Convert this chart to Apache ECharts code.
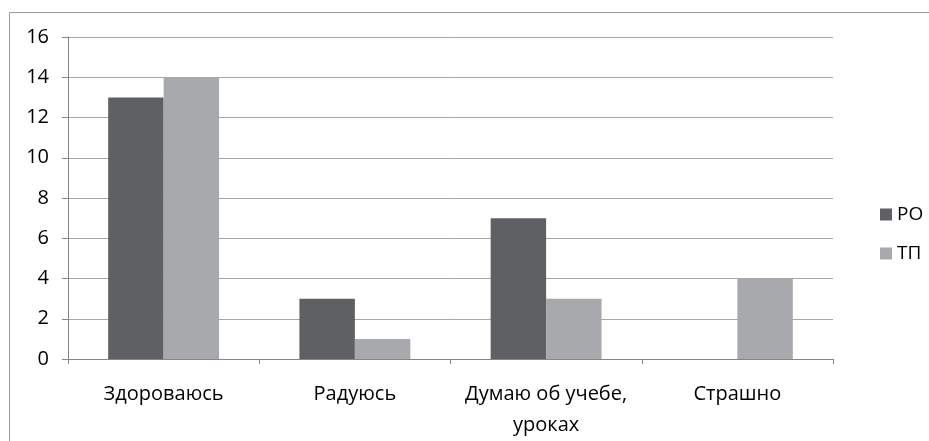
<!DOCTYPE html>
<html>
<head>
<meta charset="utf-8">
<script src="https://cdn.jsdelivr.net/npm/echarts@6/dist/echarts.min.js"></script>
<style>
html,body{margin:0;padding:0;background:#fff;}
#c{width:929px;height:441px;}
</style>
</head>
<body>
<div id="c"></div>
<script>
var categories = ['Здороваюсь', 'Радуюсь', 'Думаю об учебе,\nуроках', 'Страшно'];
var seriesNames = ['РО', 'ТП'];
var valuesPO = [13, 3, 7, 0];
var valuesTP = [14, 1, 3, 4];
var yTicks = { min: 0, max: 16, interval: 2 };

var FONT = 'Open Sans';
var chart = echarts.init(document.getElementById('c'), null, { renderer: 'canvas' });
chart.setOption({
  animation: false,
  backgroundColor: '#ffffff',
  graphic: [{
    type: 'rect',
    shape: { x: 9.5, y: 12.5, width: 1000, height: 1000 },
    style: { fill: 'none', stroke: '#9a9a9a', lineWidth: 1 },
    silent: true
  }],
  grid: { left: 68, right: 96, top: 37, bottom: 81, containLabel: false },
  legend: {
    orient: 'vertical',
    left: 875,
    top: 200,
    itemWidth: 12,
    itemHeight: 12,
    itemGap: 20,
    icon: 'rect',
    textStyle: { fontFamily: FONT, fontSize: 19, color: '#000' },
    data: seriesNames
  },
  xAxis: {
    type: 'category',
    data: categories,
    axisLine: { show: true, lineStyle: { color: '#868686', width: 1 } },
    axisTick: { show: true, length: 5, inside: false, lineStyle: { color: '#868686' } },
    axisLabel: { fontFamily: FONT, fontSize: 20, color: '#000', margin: 20, lineHeight: 31, interval: 0 },
    splitLine: { show: false }
  },
  yAxis: {
    type: 'value',
    min: yTicks.min,
    max: yTicks.max,
    interval: yTicks.interval,
    axisLine: { show: true, lineStyle: { color: '#868686', width: 1 } },
    axisTick: { show: true, length: 6, lineStyle: { color: '#868686' } },
    axisLabel: { fontFamily: FONT, fontSize: 20, color: '#000', margin: 19 },
    splitLine: { show: true, lineStyle: { color: '#a6a6a6', width: 1 } }
  },
  series: [
    { name: seriesNames[0], type: 'bar', data: valuesPO, barGap: '0%', barCategoryGap: '42%', itemStyle: { color: '#5f6064' } },
    { name: seriesNames[1], type: 'bar', data: valuesTP, barGap: '0%', barCategoryGap: '42%', itemStyle: { color: '#a7a9ac' } }
  ]
});
</script>
</body>
</html>
